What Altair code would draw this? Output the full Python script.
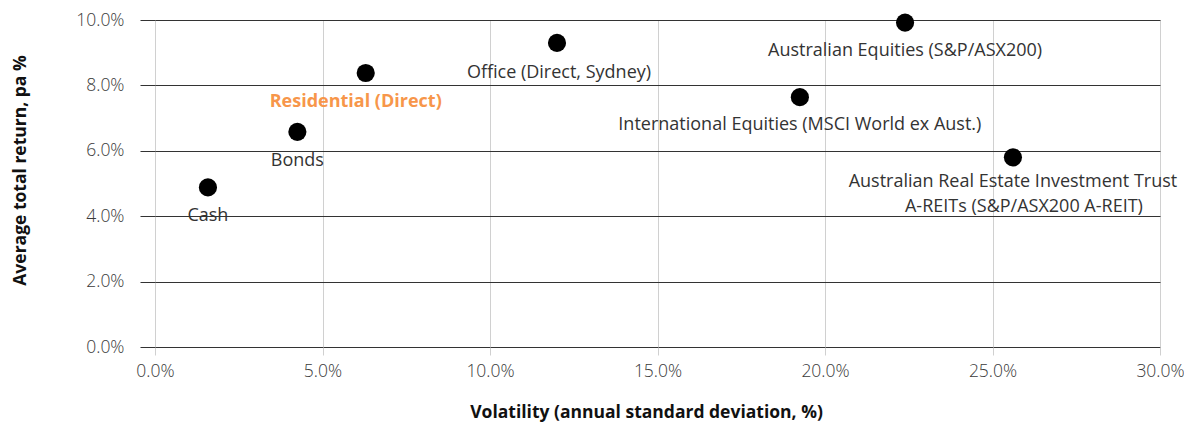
import altair as alt
import pandas as pd

# ---- data ----
assets = ["Cash", "Bonds", "Residential (Direct)", "Office (Direct, Sydney)",
          "International Equities (MSCI World ex Aust.)",
          "Australian Equities  (S&P/ASX200)",
          "A-REITs"]
volatility = [0.0158, 0.0425, 0.0629, 0.1200, 0.1925, 0.2239, 0.2561]
avg_return = [0.0488, 0.0658, 0.0838, 0.0930, 0.0764, 0.0992, 0.0580]
label_lines = [["Cash"], ["Bonds"], ["Residential (Direct)"], ["Office (Direct, Sydney)"],
               ["International Equities (MSCI World ex Aust.)"],
               ["Australian Equities  (S&P/ASX200)"],
               ["Australian Real Estate Investment Trust", "A-REITs (S&P/ASX200 A-REIT)"]]
x_ticks = [0.0, 0.05, 0.10, 0.15, 0.20, 0.25, 0.30]
y_ticks = [0.0, 0.02, 0.04, 0.06, 0.08, 0.10]

df = pd.DataFrame({"asset": assets, "vol": volatility, "ret": avg_return})

FONT = "Open Sans"
TXT = "#333333"
LBL = 17.5

x_enc = alt.X("vol:Q", scale=alt.Scale(domain=[0, 0.30], nice=False),
              axis=alt.Axis(values=x_ticks, format=".1%", title="Volatility (annual standard deviation, %)",
                            grid=True, gridColor="#d0d0d0", gridWidth=1,
                            domain=False, ticks=True, tickSize=8, tickColor="#d0d0d0",
                            labelPadding=7, labelFontSize=LBL, labelColor="#3a3a3a", labelFont=FONT,
                            labelFontWeight=300, labelFlush=False,
                            titleFont=FONT, titleFontSize=17.5, titleFontWeight="bold", titleColor="#111",
                            titleX=491, titleY=65, titleBaseline="middle"))
y_enc = alt.Y("ret:Q", scale=alt.Scale(domain=[0, 0.10], nice=False),
              axis=alt.Axis(values=y_ticks, format=".1%", title="Average total return, pa %",
                            grid=True, gridColor="#333333", gridWidth=1,
                            domain=False, ticks=True, tickSize=15, tickColor="#333333",
                            labelPadding=16, labelFontSize=LBL, labelColor="#3a3a3a", labelFont=FONT,
                            labelFontWeight=300, labelFlush=False,
                            titleFont=FONT, titleFontSize=17.5, titleFontWeight="bold", titleColor="#111",
                            titleX=-135, titleY=150, titleBaseline="middle"))

base = alt.Chart(df)
points = base.mark_circle(size=330, color="#000000", opacity=1).encode(x=x_enc, y=y_enc)

# per-label style offsets (dx, dy, colour, weight)
styles = [
    (0, 29, TXT, "normal"),
    (0, 29, TXT, "normal"),
    (-10, 29, "#F7964A", "bold"),
    (2, 30, TXT, "normal"),
    (0, 28, TXT, "normal"),
    (0, 28.5, TXT, "normal"),
]
FS = 18
layers = [points]
for i, (dx, dy, col, wt) in enumerate(styles):
    sub = pd.DataFrame({"vol": [volatility[i]], "ret": [avg_return[i]], "t": [label_lines[i][0]]})
    layers.append(alt.Chart(sub).mark_text(dx=dx, dy=dy, color=col, fontWeight=wt, font=FONT,
                                           fontSize=FS, align="center", baseline="middle").encode(
        x="vol:Q", y="ret:Q", text="t:N"))
# two-line A-REIT label
for j, (dx, dy) in enumerate([(0, 24.5), (11, 49.5)]):
    sub = pd.DataFrame({"vol": [volatility[6]], "ret": [avg_return[6]], "t": [label_lines[6][j]]})
    layers.append(alt.Chart(sub).mark_text(dx=dx, dy=dy, color=TXT, font=FONT,
                                           fontSize=FS, align="center", baseline="middle").encode(
        x="vol:Q", y="ret:Q", text="t:N"))

chart = alt.layer(*layers).properties(
    width=1005, height=327,
    autosize=alt.AutoSizeParams(type="none"),
    padding={"left": 147, "top": 12, "right": 24, "bottom": 75},
).configure_view(stroke=None).configure(background="white")

chart.save("out.html", embed_options={"renderer": "svg", "actions": False})
